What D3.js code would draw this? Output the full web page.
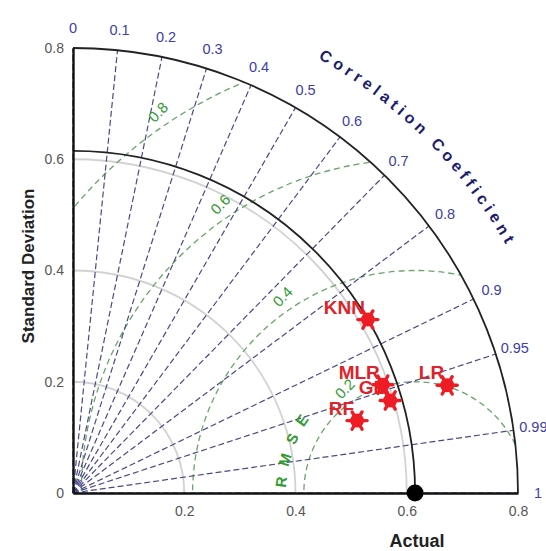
<!DOCTYPE html>
<html>
<head>
<meta charset="utf-8">
<script src="https://cdn.jsdelivr.net/npm/d3@7"></script>
<style>
  body { margin: 0; background: #fff; }
  text { font-family: "Liberation Sans", Arial, sans-serif; }
</style>
</head>
<body>
<script>
const width = 546;
const height = 551;

// data
const models = ["KNN", "LR", "GB", "MLR", "RF"];
const stdDev = [0.615, 0.700, 0.594, 0.590, 0.527];
const corrCoef = [0.862, 0.961, 0.960, 0.944, 0.969];
const refStd = 0.615;
const corrTicks = [0, 0.1, 0.2, 0.3, 0.4, 0.5, 0.6, 0.7, 0.8, 0.9, 0.95, 0.99, 1];
const stdTicksY = [0, 0.2, 0.4, 0.6, 0.8];
const stdTicksX = [0.2, 0.4, 0.6, 0.8];
const stdGrid = [0.2, 0.4, 0.6];
const rmseLevels = [0.2, 0.4, 0.6, 0.8];
const maxStd = 0.8;

const x = d3.scaleLinear().domain([0, maxStd]).range([73, 518]);
const y = d3.scaleLinear().domain([0, maxStd]).range([493, 48]);
const r = v => x(v) - x(0);
const polar = (s, c) => [x(s * c), y(s * Math.sqrt(Math.max(0, 1 - c * c)))];

const svg = d3.select("body").append("svg")
  .attr("width", width).attr("height", height);

svg.append("clipPath").attr("id", "quad")
  .append("path")
  .attr("d", `M${x(0)},${y(0)} L${x(maxStd)},${y(0)} A${r(maxStd)},${r(maxStd)} 0 0 0 ${x(0)},${y(maxStd)} Z`);

// arc helper, angles in degrees ccw from +x
const arcPath = (cx, cy, rad, a0, a1) => {
  const p0 = [cx + rad * Math.cos(a0 * Math.PI / 180), cy - rad * Math.sin(a0 * Math.PI / 180)];
  const p1 = [cx + rad * Math.cos(a1 * Math.PI / 180), cy - rad * Math.sin(a1 * Math.PI / 180)];
  const sweep = a1 > a0 ? 0 : 1;
  const large = Math.abs(a1 - a0) > 180 ? 1 : 0;
  return `M${p0[0]},${p0[1]} A${rad},${rad} 0 ${large} ${sweep} ${p1[0]},${p1[1]}`;
};

// grey std arcs
svg.append("g").selectAll("path").data(stdGrid).join("path")
  .attr("d", d => arcPath(x(0), y(0), r(d), 0, 90))
  .attr("fill", "none").attr("stroke", "#d2d2d2").attr("stroke-width", 1.8);

// RMSE contours
const rmse = svg.append("g").attr("clip-path", "url(#quad)");
rmse.selectAll("path").data(rmseLevels).join("path")
  .attr("d", d => arcPath(x(refStd), y(0), r(d), 0, 180))
  .attr("fill", "none").attr("stroke", "#6aa56a").attr("stroke-width", 1.3)
  .attr("stroke-dasharray", "6,4");

// correlation rays
svg.append("g").selectAll("line").data(corrTicks).join("line")
  .attr("x1", x(0)).attr("y1", y(0))
  .attr("x2", d => polar(maxStd, d)[0]).attr("y2", d => polar(maxStd, d)[1])
  .attr("stroke", "#4a4a88").attr("stroke-width", 1.2)
  .attr("stroke-dasharray", "6,3");

// RMSE labels
svg.append("g").selectAll("text").data(rmseLevels).join("text")
  .attr("transform", d => {
    const a = 124 * Math.PI / 180;
    const rr = d + 0.026;
    const px = x(refStd + rr * Math.cos(a)), py = y(rr * Math.sin(a));
    return `translate(${px},${py}) rotate(-45)`;
  })
  .attr("text-anchor", "middle").attr("dy", "0.35em")
  .attr("fill", "#2f9a2f").attr("font-size", 15)
  .text(d => d3.format(".1f")(d));

// RMSE title along arc
const rmseR = r(0.232);
svg.append("path").attr("id", "rmsePath").attr("fill", "none")
  .attr("d", arcPath(x(refStd), y(0), rmseR, 180, 120));
svg.append("text")
  .attr("fill", "#2f9a2f").attr("font-size", 15).attr("font-weight", "bold")
  .attr("letter-spacing", 10)
  .append("textPath").attr("href", "#rmsePath").attr("startOffset", 5)
  .text("RMSE");

// reference std arc and outer frame
svg.append("path").attr("d", arcPath(x(0), y(0), r(refStd), 0, 90))
  .attr("fill", "none").attr("stroke", "#222").attr("stroke-width", 1.8);
svg.append("path").attr("d", arcPath(x(0), y(0), r(maxStd), 0, 90))
  .attr("fill", "none").attr("stroke", "#222").attr("stroke-width", 1.8);

// axes
const yAxis = svg.append("g").attr("transform", `translate(${x(0)},0)`)
  .call(d3.axisLeft(y).tickValues(stdTicksY).tickSize(0).tickPadding(9)
    .tickFormat(d => d === 0 ? "0" : d3.format(".1f")(d)));
const xAxis = svg.append("g").attr("transform", `translate(0,${y(0)})`)
  .call(d3.axisBottom(x).tickValues(stdTicksX).tickSize(0).tickPadding(13)
    .tickFormat(d3.format(".1f")));
[xAxis, yAxis].forEach(g => {
  g.select(".domain").attr("stroke", "#111").attr("stroke-width", 2.4);
  g.selectAll(".tick text").attr("fill", "#555").attr("font-size", 14)
    .attr("font-family", "Liberation Sans, Arial, sans-serif");
});

// correlation labels
svg.append("g").selectAll("text").data(corrTicks).join("text")
  .attr("x", d => x(0) + r(0.836) * d)
  .attr("y", d => y(0) - r(0.836) * Math.sqrt(1 - d * d))
  .attr("text-anchor", "middle").attr("dy", "0.35em")
  .attr("fill", "#4040a8").attr("font-size", 14.5)
  .text(d => String(d));

// correlation title along arc
svg.append("path").attr("id", "corrPath").attr("fill", "none")
  .attr("d", arcPath(x(0), y(0), r(0.897), 85, 5));
svg.append("text")
  .attr("fill", "#1c1c70").attr("font-size", 16).attr("font-weight", "bold")
  .attr("letter-spacing", 4.3)
  .append("textPath").attr("href", "#corrPath")
  .attr("startOffset", "50%").attr("text-anchor", "middle")
  .text("Correlation Coefficient");

// axis titles
svg.append("text")
  .attr("transform", "translate(34,266) rotate(-90)")
  .attr("text-anchor", "middle").attr("font-size", 17).attr("font-weight", "bold")
  .attr("fill", "#222").text("Standard Deviation");
svg.append("text")
  .attr("x", x(refStd) + 2).attr("y", 547)
  .attr("text-anchor", "middle").attr("font-size", 18).attr("font-weight", "bold")
  .attr("fill", "#222").text("Actual");

// reference point
svg.append("circle").attr("cx", x(refStd)).attr("cy", y(0)).attr("r", 8.5)
  .attr("fill", "#000");

// model labels and markers
const pts = models.map((m, i) => {
  const [px, py] = polar(stdDev[i], corrCoef[i]);
  return {name: m, px, py};
});
svg.append("g").selectAll("text").data(pts).join("text")
  .attr("x", d => d.px - 3).attr("y", d => d.py - 6)
  .attr("text-anchor", "end").attr("font-size", 19).attr("font-weight", "bold")
  .attr("fill", "#e0222a").text(d => d.name);

const mk = svg.append("g").selectAll("g").data(pts).join("g")
  .attr("transform", d => `translate(${d.px},${d.py})`);
mk.append("circle").attr("r", 7).attr("fill", "#ee1c24");
[0, 60, 120].forEach(a => {
  mk.append("line")
    .attr("x1", -10 * Math.cos(a * Math.PI / 180)).attr("y1", -10 * Math.sin(a * Math.PI / 180))
    .attr("x2", 10 * Math.cos(a * Math.PI / 180)).attr("y2", 10 * Math.sin(a * Math.PI / 180))
    .attr("stroke", "#ee1c24").attr("stroke-width", 3.4).attr("stroke-linecap", "round");
});
</script>
</body>
</html>
